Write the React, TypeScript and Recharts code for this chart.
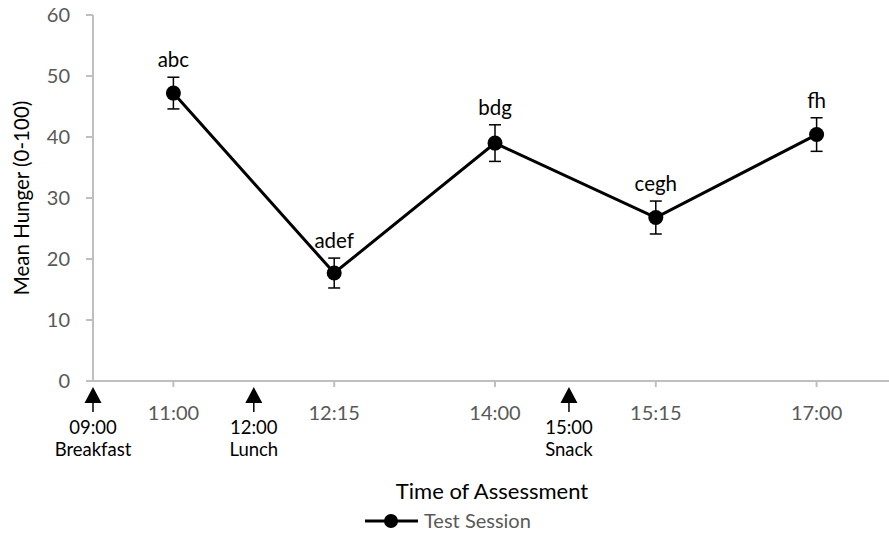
import React from 'react'
import {
  LineChart,
  Line,
  XAxis,
  YAxis,
  ErrorBar,
  LabelList,
  ReferenceLine,
  Legend,
  Label,
} from 'recharts'

const times = ['11:00', '12:15', '14:00', '15:15', '17:00']
const hunger = [47.2, 17.7, 39.0, 26.8, 40.4]
const sem = [2.6, 2.45, 3.0, 2.7, 2.75]
const letters = ['abc', 'adef', 'bdg', 'cegh', 'fh']
const yTicks = [0, 10, 20, 30, 40, 50, 60]

const mealTimes = ['09:00', '12:00', '15:00']
const mealNames = ['Breakfast', 'Lunch', 'Snack']
const mealPos = [0, 1, 2.96]

const FONT = 'Lato, "Open Sans", sans-serif'
const AXIS = '#bfbfbf'
const GREY = '#595959'

const data = times.map((t, i) => ({
  pos: i + 0.5,
  time: t,
  hunger: hunger[i],
  err: sem[i],
  upper: hunger[i] + sem[i],
  sig: letters[i],
}))

// arrow + two-line caption hanging under the x axis
const MealMarker = (props: any) => {
  const { viewBox, time, name } = props
  const x = viewBox.x
  const base = viewBox.y + viewBox.height
  return (
    <g>
      <path d={`M${x},${base + 6} L${x - 8.5},${base + 22} L${x + 8.5},${base + 22} Z`} fill="#000" />
      <line x1={x} x2={x} y1={base + 22} y2={base + 31} stroke="#000" strokeWidth={1.5} />
      <text x={x} y={base + 53} textAnchor="middle" fontFamily={FONT} fontSize={18.5} fill="#000">
        {time}
      </text>
      <text x={x} y={base + 75} textAnchor="middle" fontFamily={FONT} fontSize={18.5} fill="#000">
        {name}
      </text>
    </g>
  )
}

const LegendContent = () => (
  <svg width={889} height={28}>
    <line x1={365} x2={418} y1={14} y2={14} stroke="#000" strokeWidth={3} />
    <circle cx={391} cy={14} r={7} fill="#000" />
    <text x={424} y={20.5} fontFamily={FONT} fontSize={20} fill={GREY}>
      Test Session
    </text>
  </svg>
)

export default function App() {
  return (
    <div style={{ position: 'absolute', left: 0, top: 0, width: 889, height: 535, overflow: 'hidden', background: '#fff' }}>
      <LineChart width={897} height={535} data={data} margin={{ top: 15, right: 0, bottom: 0, left: 0 }}>
        <XAxis
          type="number"
          dataKey="pos"
          domain={[0, 5]}
          ticks={data.map((d) => d.pos)}
          tickFormatter={(v: number) => times[Math.round(v - 0.5)]}
          height={126}
          stroke={AXIS}
          strokeWidth={2}
          tickSize={6}
          tickMargin={19}
          tick={{ fill: GREY, fontSize: 20, fontFamily: FONT }}
        >
          <Label
            content={(p: any) => (
              <text
                x={p.viewBox.x + p.viewBox.width / 2 - 3}
                y={p.viewBox.y + 118}
                textAnchor="middle"
                fontFamily={FONT}
                fontSize={22}
                fill="#000"
              >
                Time of Assessment
              </text>
            )}
          />
        </XAxis>
        <YAxis
          domain={[0, 60]}
          ticks={yTicks}
          width={93}
          stroke={AXIS}
          strokeWidth={2}
          tickSize={7}
          tickMargin={16}
          tick={{ fill: GREY, fontSize: 20, fontFamily: FONT }}
        >
          <Label
            content={(p: any) => {
              const cx = 21
              const cy = p.viewBox.y + p.viewBox.height / 2
              return (
                <text
                  x={cx}
                  y={cy}
                  transform={`rotate(-90, ${cx}, ${cy})`}
                  textAnchor="middle"
                  dominantBaseline="central"
                  fontFamily={FONT}
                  fontSize={20.5}
                  fill="#000"
                >
                  Mean Hunger (0-100)
                </text>
              )
            }}
          />
        </YAxis>
        {mealPos.map((p, i) => (
          <ReferenceLine
            key={mealTimes[i]}
            x={p}
            stroke="none"
            label={(props: any) => <MealMarker {...props} time={mealTimes[i]} name={mealNames[i]} />}
          />
        ))}
        <Line
          dataKey="upper"
          stroke="none"
          dot={false}
          activeDot={false}
          legendType="none"
          isAnimationActive={false}
        >
          <LabelList dataKey="sig" position="top" offset={10} fill="#000" fontSize={20.5} fontFamily={FONT} />
        </Line>
        <Line
          dataKey="hunger"
          stroke="#000"
          strokeWidth={3}
          dot={{ r: 7.5, fill: '#000', stroke: '#000', strokeWidth: 0 }}
          activeDot={false}
          isAnimationActive={false}
        >
          <ErrorBar dataKey="err" direction="y" width={6} stroke="#000" strokeWidth={1.5} />
        </Line>
        <Legend verticalAlign="bottom" height={28} content={<LegendContent />} />
      </LineChart>
    </div>
  )
}
